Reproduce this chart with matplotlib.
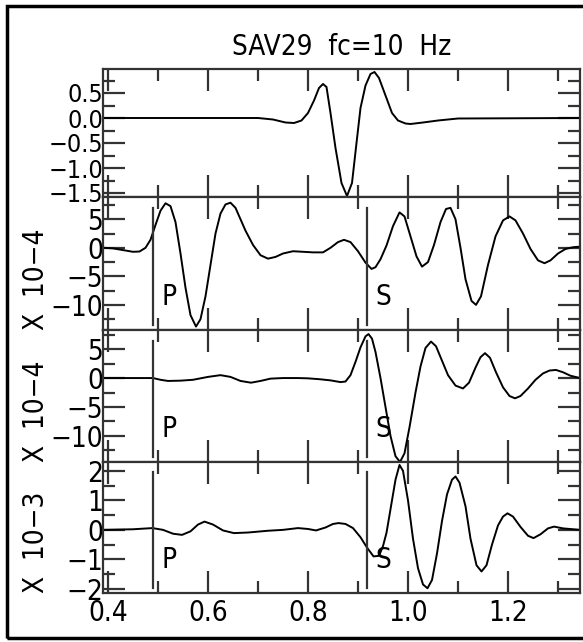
import numpy as np
import matplotlib.pyplot as plt
from matplotlib.ticker import MultipleLocator
from matplotlib.patches import Rectangle

plt.rcParams['font.family'] = ['DejaVu Sans']
plt.rcParams['font.stretch'] = 'condensed'

# picks
t_p = 0.49
t_s = 0.917

# source wavelet
t1 = [0.39, 0.70, 0.73, 0.755, 0.772, 0.787, 0.80, 0.812, 0.822, 0.83, 0.837, 0.845, 0.855, 0.867,
      0.878, 0.888, 0.897, 0.905, 0.915, 0.925, 0.933, 0.942, 0.955, 0.968, 0.98, 0.995, 1.005,
      1.03, 1.06, 1.10, 1.344]
v1 = [0.0, 0.0, -0.03, -0.09, -0.1, -0.05, 0.1, 0.35, 0.6, 0.68, 0.62, 0.1, -0.6, -1.3,
      -1.56, -1.3, -0.5, 0.2, 0.65, 0.88, 0.92, 0.8, 0.45, 0.1, -0.05, -0.11, -0.12,
      -0.09, -0.05, -0.01, 0.0]

# seismogram, x 10-4
t2 = [0.392, 0.41, 0.43, 0.45, 0.463, 0.475, 0.485, 0.495, 0.505, 0.515, 0.525, 0.535, 0.545, 0.555,
      0.565, 0.576, 0.585, 0.595, 0.605, 0.615, 0.625, 0.635, 0.645, 0.655, 0.665, 0.675, 0.69,
      0.705, 0.72, 0.735, 0.75, 0.77, 0.79, 0.81, 0.83, 0.845, 0.86, 0.872, 0.885, 0.90, 0.915,
      0.927, 0.935, 0.945, 0.957, 0.97, 0.983, 0.993, 1.005, 1.017, 1.028, 1.04, 1.052, 1.065,
      1.076, 1.085, 1.095, 1.105, 1.115, 1.127, 1.136, 1.146, 1.16, 1.175, 1.19, 1.203, 1.215,
      1.23, 1.245, 1.26, 1.273, 1.285, 1.30, 1.315, 1.33, 1.344]
v2 = [0.0, -0.1, -0.4, -0.7, -0.65, 0.0, 1.4, 4.0, 6.5, 7.8, 7.3, 4.5, -1.0, -7.0,
      -11.8, -13.8, -12.5, -8.5, -3.0, 2.5, 6.0, 7.6, 7.9, 7.0, 5.0, 3.0, 0.5,
      -1.3, -1.9, -1.6, -1.0, -0.6, -0.7, -0.8, -0.8, 0.0, 1.0, 1.4, 1.0, -0.6, -2.6,
      -3.7, -3.4, -2.0, 0.4, 3.8, 6.2, 5.5, 2.0, -1.5, -3.3, -2.5, 0.5, 4.5,
      6.8, 7.0, 5.0, 0.0, -5.5, -9.3, -10.0, -8.5, -3.0, 2.0, 4.8, 5.5, 4.8,
      2.5, -0.2, -2.2, -2.7, -2.2, -1.0, -0.2, 0.1, 0.2]

# seismogram, x 10-4
t3 = [0.392, 0.49, 0.505, 0.52, 0.545, 0.57, 0.60, 0.625, 0.645, 0.665, 0.686, 0.705, 0.725, 0.75,
      0.78, 0.80, 0.823, 0.845, 0.865, 0.875, 0.885, 0.895, 0.905, 0.915, 0.921, 0.928, 0.935,
      0.945, 0.955, 0.965, 0.975, 0.984, 0.993, 1.003, 1.015, 1.025, 1.035, 1.046, 1.056, 1.068,
      1.08, 1.095, 1.11, 1.122, 1.135, 1.145, 1.154, 1.164, 1.176, 1.19, 1.203, 1.214, 1.225,
      1.24, 1.255, 1.27, 1.283, 1.296, 1.31, 1.325, 1.344]
v3 = [0.0, 0.0, -0.3, -0.5, -0.45, -0.3, 0.2, 0.5, 0.2, -0.5, -0.8, -0.5, -0.1, 0.0,
      0.0, -0.05, -0.2, -0.4, -0.7, -0.6, 0.5, 2.8, 5.3, 7.2, 7.6, 6.8, 4.5,
      0.0, -5.0, -10.0, -13.5, -14.5, -13.0, -8.5, -2.5, 2.0, 5.2, 6.3, 5.5, 3.0,
      0.5, -1.3, -1.8, -0.8, 1.8, 3.6, 4.3, 3.5, 1.0, -1.6, -3.1, -3.5, -3.1,
      -1.8, -0.3, 0.8, 1.3, 1.4, 1.0, 0.4, 0.0]

# seismogram, x 10-3
t4 = [0.392, 0.45, 0.489, 0.51, 0.53, 0.548, 0.565, 0.58, 0.593, 0.61, 0.63, 0.652, 0.68, 0.72,
      0.75, 0.78, 0.80, 0.816, 0.835, 0.85, 0.861, 0.875, 0.89, 0.905, 0.918, 0.931, 0.942,
      0.95, 0.957, 0.965, 0.975, 0.983, 0.99, 1.0, 1.01, 1.02, 1.03, 1.039, 1.048, 1.058,
      1.068, 1.078, 1.088, 1.095, 1.103, 1.115, 1.125, 1.137, 1.147, 1.157, 1.168, 1.18,
      1.19, 1.199, 1.21, 1.225, 1.24, 1.251, 1.265, 1.28, 1.292, 1.31, 1.344]
v4 = [0.0, 0.02, 0.06, 0.0, -0.13, -0.17, -0.05, 0.18, 0.28, 0.18, -0.02, -0.11, -0.09, -0.03,
      0.0, 0.06, 0.03, -0.02, 0.08, 0.2, 0.23, 0.2, 0.06, -0.25, -0.6, -0.9, -0.88,
      -0.55, -0.1, 0.7, 1.7, 2.2, 2.0, 1.0, -0.3, -1.3, -1.85, -1.98, -1.7, -0.8,
      0.3, 1.2, 1.7, 1.81, 1.6, 0.8, -0.3, -1.2, -1.41, -1.2, -0.5, 0.15,
      0.45, 0.56, 0.45, 0.1, -0.2, -0.28, -0.15, 0.05, 0.11, 0.05, 0.0]

W, H = 583, 642
fig = plt.figure(figsize=(W / 100, H / 100), dpi=100)

# outer frame
fig.add_artist(Rectangle((7 / W, 1 - 638 / H), 1.0, (638 - 6) / H,
                         transform=fig.transFigure, fill=False, lw=2.5, ec='black'))

left, right = 103 / W, 580 / W
edges = [69, 197, 330, 462, 593]
axs = []
for i in range(4):
    b = 1 - edges[i + 1] / H
    h = (edges[i + 1] - edges[i]) / H
    axs.append(fig.add_axes([left, b, right - left, h]))

panels = [
    (t1, v1, (-1.58, 0.98), 0.25, ['0.5', '0.0', '-0.5', '-1.0', '-1.5'], [0.5, 0.0, -0.5, -1.0, -1.5], None),
    (t2, v2, (-14.4, 8.9), 2.5, ['5', '0', '-5', '-10'], [5, 0, -5, -10], 'X  10\u22124'),
    (t3, v3, (-14.5, 8.3), 2.5, ['5', '0', '-5', '-10'], [5, 0, -5, -10], 'X  10\u22124'),
    (t4, v4, (-2.14, 2.3), 0.5, ['2', '1', '0', '-1', '-2'], [2, 1, 0, -1, -2], 'X  10\u22123'),
]

fs = 20
for i, (ax, (t, v, yl, mnr, labs, locs, ylab)) in enumerate(zip(axs, panels)):
    ax.plot(t, v, color='black', lw=1.4)
    ax.set_xlim(0.39, 1.344)
    ax.set_ylim(*yl)
    ax.xaxis.set_major_locator(MultipleLocator(0.2))
    ax.xaxis.set_minor_locator(MultipleLocator(0.1))
    ax.yaxis.set_minor_locator(MultipleLocator(mnr))
    ax.set_yticks(locs)
    ax.set_yticklabels([s.replace('-', '\u2212') for s in labs])
    ax.tick_params(which='both', direction='in', top=True, right=True, width=1.6, color='#333333')
    ax.tick_params(which='major', length=16)
    ax.tick_params(which='minor', length=8.5)
    ax.tick_params(axis='y', labelsize=fs if i > 0 else 18, pad=0)
    ax.tick_params(axis='x', labelsize=fs, pad=4)
    for sp in ax.spines.values():
        sp.set_linewidth(1.6)
        sp.set_color('#333333')
    if i < 3:
        ax.tick_params(axis='x', labelbottom=False)
    if i > 0:
        ax.axvline(t_p, ymin=0.04, ymax=0.92, color='#333333', lw=1.6)
        ax.axvline(t_s, ymin=0.04, ymax=0.92, color='#333333', lw=1.6)
        ax.text(t_p + 0.018, 0.25, 'P', transform=ax.get_xaxis_transform(), fontsize=fs, va='center')
        ax.text(t_s + 0.018, 0.25, 'S', transform=ax.get_xaxis_transform(), fontsize=fs, va='center')
        ax.text(-0.14, 0.0, ylab, transform=ax.transAxes, rotation=90, fontsize=fs,
                ha='center', va='bottom')

axs[0].set_title('SAV29  fc=10  Hz', fontsize=fs, pad=10)

fig.savefig('out.png', dpi=100)
